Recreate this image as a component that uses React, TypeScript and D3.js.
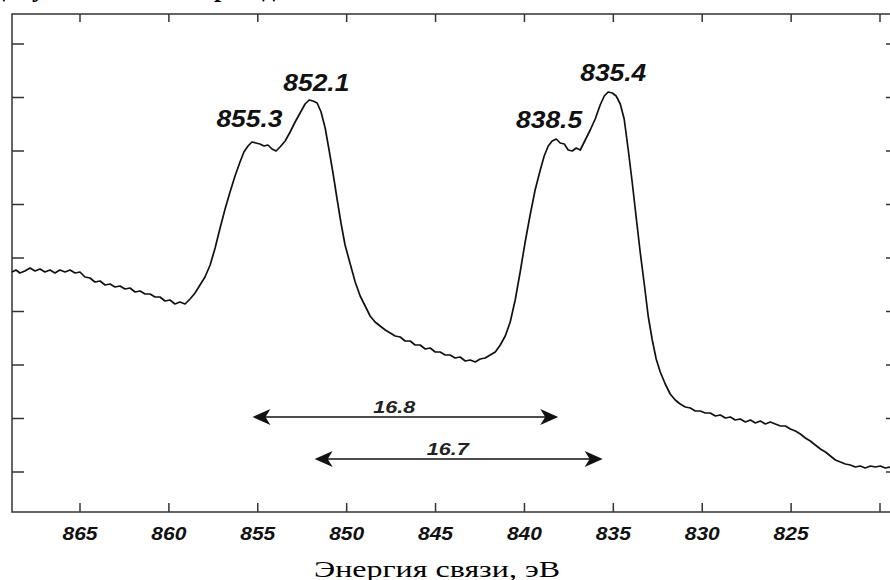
import React from "react";
import * as d3 from "d3";

// Binding energy (eV) and intensity (a.u.)
const energies = [
  868.83, 868.6, 868.38, 868.1, 867.81, 867.53, 867.25, 866.97, 866.69, 866.41, 866.13, 865.84, 865.56, 865.28, 865.0,
  864.72, 864.44, 864.16, 863.87, 863.59, 863.31, 863.03, 862.75, 862.47, 862.19, 861.9, 861.62, 861.34, 861.06, 860.78,
  860.5, 860.22, 859.94, 859.66, 859.38, 859.09, 858.81, 858.53, 858.25, 857.97, 857.68, 857.4, 857.12, 856.84, 856.56,
  856.28, 856.0, 855.78, 855.55, 855.33, 855.1, 854.88, 854.65, 854.43, 854.2, 853.97, 853.75, 853.46, 853.18, 852.9,
  852.62, 852.34, 852.11, 851.89, 851.66, 851.44, 851.21, 850.99, 850.76, 850.54, 850.31, 850.09, 849.8, 849.52, 849.24,
  848.96, 848.68, 848.4, 848.12, 847.83, 847.55, 847.27, 846.99, 846.71, 846.43, 846.15, 845.87, 845.58, 845.3, 845.02,
  844.74, 844.46, 844.18, 843.9, 843.62, 843.33, 843.05, 842.77, 842.49, 842.21, 841.93, 841.64, 841.36, 841.08, 840.8,
  840.52, 840.24, 839.96, 839.68, 839.4, 839.11, 838.89, 838.66, 838.44, 838.21, 837.99, 837.76, 837.54, 837.31, 837.09,
  836.86, 836.58, 836.3, 836.02, 835.74, 835.51, 835.29, 835.06, 834.84, 834.61, 834.39, 834.16, 833.94, 833.71, 833.49,
  833.26, 833.04, 832.81, 832.59, 832.36, 832.08, 831.8, 831.52, 831.24, 830.95, 830.67, 830.39, 830.11, 829.83, 829.55,
  829.26, 828.98, 828.7, 828.42, 828.14, 827.86, 827.57, 827.29, 827.01, 826.73, 826.45, 826.17, 825.89, 825.6, 825.32,
  825.04, 824.76, 824.48, 824.2, 823.92, 823.64, 823.35, 823.07, 822.79, 822.51, 822.23, 821.95, 821.67, 821.39, 821.11,
  820.83, 820.54, 820.26, 819.98, 819.7, 819.42,
];
const intensities = [
  240, 242, 239, 241, 244, 241, 243, 240, 242, 239, 242, 240, 242, 239, 240,
  235, 234, 230, 231, 227, 228, 225, 226, 223, 224, 220, 221, 218, 218, 215,
  215, 211, 212, 208, 210, 208, 213, 219, 227, 235, 247, 264, 284, 303, 320,
  336, 350, 360, 366, 370, 369, 368, 366, 367, 363, 361, 365, 371, 380, 390,
  399, 408, 412, 411, 409, 400, 384, 362, 338, 313, 288, 267, 248, 230, 216,
  206, 196, 190, 186, 182, 179, 176, 175, 171, 171, 167, 167, 163, 164, 160,
  160, 157, 157, 154, 155, 151, 152, 150, 153, 154, 157, 160, 167, 176, 190,
  212, 240, 270, 297, 322, 342, 356, 366, 371, 373, 369, 368, 362, 361, 364,
  362, 372, 382, 393, 407, 416, 420, 419, 416, 408, 393, 362, 330, 294, 260,
  228, 196, 172, 153, 140, 128, 118, 112, 108, 105, 104, 101, 101, 99, 99,
  96, 97, 94, 95, 92, 93, 90, 92, 89, 91, 88, 90, 88, 86, 86,
  83, 81, 78, 74, 71, 67, 63, 60, 56, 52, 50, 48, 47, 45, 46,
  44, 46, 45, 46, 44, 45,
];

const xTickValues = [865, 860, 855, 850, 845, 840, 835, 830, 825, 820];
const xTickLabels = ["865", "860", "855", "850", "845", "840", "835", "830", "825", ""];
const yTickValues = [40, 93.5, 147, 200.5, 254, 307.5, 361, 414.5, 468];

const peakEnergies = [855.3, 852.1, 838.5, 835.4];
const peakLabels = ["855.3", "852.1", "838.5", "835.4"];
const peakLabelLevels = [385, 421, 384, 431];

const arrowFrom = [855.3, 851.8];
const arrowTo = [838.1, 835.6];
const arrowLevels = [95, 53];
const arrowLabels = ["16.8", "16.7"];

const axisTitle = "Энергия связи, эВ";

const W = 890;
const H = 580;
const left = 12;
const right = 893;
const top = 14;
const bottom = 512;

const peakDx = [-3, 7, -2, 7];

export default function App() {
  const x = d3.scaleLinear().domain([865, 820]).range([80, 880]);
  const y = d3.scaleLinear().domain([0, 498]).range([bottom, top]);
  const pts: [number, number][] = energies.map((e, i) => [e, intensities[i]]);
  const line = d3
    .line<[number, number]>()
    .x((d) => x(d[0]))
    .y((d) => y(d[1]))
    .curve(d3.curveLinear);

  const numFont = "'Liberation Sans', Arial, sans-serif";
  const ink = "#111";

  const arrowHead = (tx: number, ty: number, dir: number) => {
    // dir = -1 points left, +1 points right
    const L = 18;
    const Wd = 8;
    const n = 5;
    return `M${tx},${ty} L${tx - dir * L},${ty - Wd} L${tx - dir * (L - n)},${ty} L${tx - dir * L},${ty + Wd} Z`;
  };

  return (
    <svg
      width={W}
      height={H}
      style={{ position: "absolute", left: 0, top: 0, background: "#fff" }}
    >
      <rect x={0} y={0} width={W} height={H} fill="#fff" />
      {/* cut-off heading fragments */}
      <text
        y={-3}
        fontFamily="'Liberation Serif', 'Times New Roman', serif"
        fontWeight="bold"
        fontSize={26}
        fill="#000"
      >
        <tspan x={-8}>д</tspan>
        <tspan x={32}>у</tspan>
        <tspan x={214}>р</tspan>
        <tspan x={262}>д</tspan>
      </text>

      {/* frame */}
      <rect
        x={left}
        y={top}
        width={right - left}
        height={bottom - top}
        fill="none"
        stroke="#333"
        strokeWidth={1.5}
      />

      {/* x ticks bottom and top */}
      {xTickValues.map((v, i) => (
        <g key={"xt" + i}>
          <line x1={x(v)} x2={x(v)} y1={bottom} y2={bottom - 9} stroke="#333" strokeWidth={1.5} />
          <line x1={x(v)} x2={x(v)} y1={top} y2={top + 8} stroke="#333" strokeWidth={1.5} />
          {xTickLabels[i] && (
            <text
              x={x(v)}
              y={540}
              textAnchor="middle"
              fontFamily={numFont}
              fontWeight="bold"
              fontStyle="italic"
              fontSize={18}
              textLength={35}
              lengthAdjust="spacingAndGlyphs"
              fill={ink}
            >
              {xTickLabels[i]}
            </text>
          )}
        </g>
      ))}

      {/* y ticks left and right */}
      {yTickValues.map((v, i) => (
        <g key={"yt" + i}>
          <line x1={left} x2={left + 12} y1={y(v)} y2={y(v)} stroke="#333" strokeWidth={1.5} />
          <line x1={886} x2={891} y1={y(v)} y2={y(v)} stroke="#333" strokeWidth={1.5} />
        </g>
      ))}

      {/* spectrum */}
      <path d={line(pts) || ""} fill="none" stroke={ink} strokeWidth={1.7} strokeLinejoin="round" />

      {/* peak labels */}
      {peakEnergies.map((e, i) => (
        <text
          key={"pl" + i}
          x={x(e) + peakDx[i]}
          y={y(peakLabelLevels[i])}
          textAnchor="middle"
          fontFamily={numFont}
          fontWeight="bold"
          fontStyle="italic"
          fontSize={24}
          textLength={66}
          lengthAdjust="spacingAndGlyphs"
          fill={ink}
        >
          {peakLabels[i]}
        </text>
      ))}

      {/* splitting arrows */}
      {arrowFrom.map((a, i) => {
        const x1 = x(a);
        const x2 = x(arrowTo[i]);
        const yy = y(arrowLevels[i]);
        return (
          <g key={"ar" + i}>
            <line x1={x1 + 8} x2={x2 - 8} y1={yy} y2={yy} stroke={ink} strokeWidth={1.5} />
            <path d={arrowHead(x1, yy, -1)} fill={ink} />
            <path d={arrowHead(x2, yy, 1)} fill={ink} />
            <text
              x={(x1 + x2) / 2 - 11}
              y={yy - 4}
              textAnchor="middle"
              fontFamily={numFont}
              fontWeight="bold"
              fontStyle="italic"
              fontSize={16}
              textLength={42}
              lengthAdjust="spacingAndGlyphs"
              fill="#222"
            >
              {arrowLabels[i]}
            </text>
          </g>
        );
      })}

      {/* axis title */}
      <text
        x={437}
        y={577}
        textAnchor="middle"
        fontFamily="'Liberation Serif', 'Times New Roman', serif"
        fontSize={23}
        textLength={246}
        lengthAdjust="spacingAndGlyphs"
        fill="#000"
      >
        {axisTitle}
      </text>
    </svg>
  );
}
